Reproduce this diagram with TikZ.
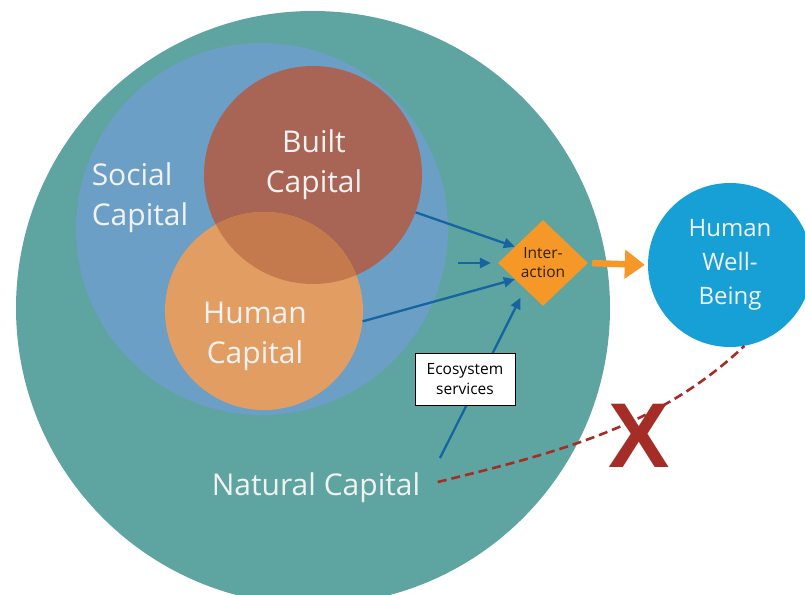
\documentclass[tikz,border=0pt]{standalone}
\usepackage{fontspec}
\setmainfont{Open Sans}
\newfontfamily\crossfont{Liberation Sans}
\usetikzlibrary{shapes.geometric,arrows.meta,positioning}

\definecolor{natural}{RGB}{94,164,160}
\definecolor{social}{RGB}{108,159,197}
\definecolor{built}{RGB}{168,100,84}
\definecolor{human}{RGB}{226,158,98}
\definecolor{overlap}{RGB}{196,122,76}
\definecolor{interorange}{RGB}{245,152,40}
\definecolor{wellbeing}{RGB}{22,160,214}
\definecolor{flowblue}{RGB}{22,100,160}
\definecolor{xred}{RGB}{165,45,40}
\definecolor{labelwhite}{RGB}{242,242,242}

\tikzset{
  capital/.style={circle, inner sep=0pt},
  caplabel/.style={text=labelwhite, align=center, font=\fontsize{30}{40}\selectfont},
  flow/.style={draw=flowblue, line width=2.3pt, -{Triangle[length=11pt,width=10pt]}}
}

\begin{document}
\begin{tikzpicture}[x=1pt,y=-1pt]
  \clip (0,0) rectangle (805,594);

  % Capitals
  \node[capital, fill=natural, minimum size=594pt] (nat) at (313,308) {};
  \node[capital, fill=social, minimum size=372pt] (soc) at (262,229) {};
  \node[capital, fill=built, minimum size=218pt] (built) at (313,175) {};
  \node[capital, fill=human, minimum size=198pt] (human) at (264,311) {};
  \begin{scope}
    \clip (built.center) circle[radius=109];
    \fill[overlap] (human.center) circle[radius=99];
  \end{scope}

  % Labels
  \node[caplabel, align=left] (soctext) at (140,198) {Social\\Capital};
  \node[caplabel] (builttext) at (314,165) {Built\\Capital};
  \node[caplabel] (humantext) at (255,336) {Human\\Capital};
  \node[caplabel] (natcap) at (316,488) {Natural Capital};

  % Interaction and well-being
  \node[diamond, fill=interorange, inner sep=0pt, minimum width=90pt, minimum height=86pt,
        align=center, text=black!75!brown, font=\fontsize{15.5}{19}\selectfont] (inter) at (543,263) {Inter-\\action};
  \node[capital, fill=wellbeing, minimum size=164pt, text=labelwhite, align=center,
        font=\fontsize{24}{34}\selectfont] (hwb) at (730,265) {Human\\Well-\\Being};

  % Flows
  \coordinate (midtail) at (458,263);
  \coordinate (esstail) at (440,458);
  \draw[flow] (built.-20) -- (inter.150);
  \draw[flow, shorten >=7pt] (midtail) -- (inter.west);
  \draw[flow] (human.-6) -- (inter.210);
  \draw[flow, shorten >=10pt] (esstail) -- (inter.235);
  \draw[draw=interorange, line width=6.5pt, -{Triangle[length=20pt,width=28pt]},
        shorten <=4pt, shorten >=3pt] (inter.east) -- (hwb.west);

  \node[draw=black, fill=white, line width=0.8pt, align=center, minimum width=100pt,
        minimum height=52pt, font=\fontsize{15.5}{20}\selectfont] (ess) at (465,379) {Ecosystem\\services};

  % Broken link
  \draw[xred, line width=2.6pt, dash pattern=on 9pt off 5pt]
    ([xshift=14pt,yshift=6pt]natcap.east) .. controls (560,452) and (660,426) .. (hwb.-80);
  \node[text=xred, font=\crossfont\fontsize{92}{92}\selectfont\bfseries] (cross) at (639,436) {X};
\end{tikzpicture}
\end{document}
